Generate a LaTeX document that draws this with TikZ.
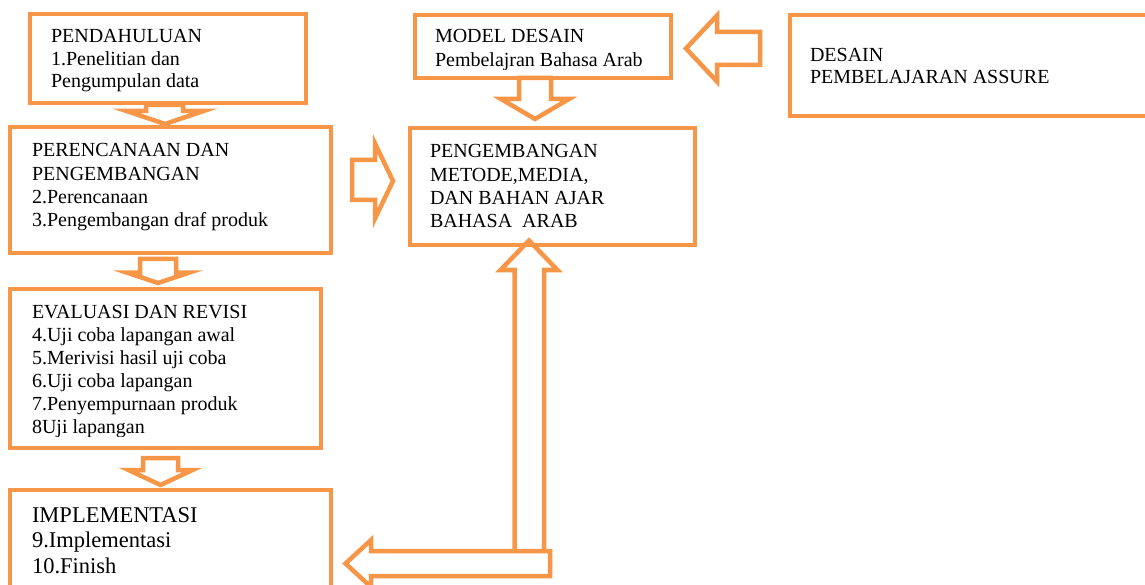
\documentclass[tikz,border=0pt]{standalone}
\usepackage{fontspec}
\setmainfont{Liberation Serif}
\definecolor{org}{HTML}{F79646}
\newcommand\lines[2]{\parbox[t]{12cm}{\raggedright\fontsize{20}{#1}\selectfont #2}}
\newcommand\biglines[2]{\parbox[t]{12cm}{\raggedright\fontsize{22.5}{#1}\selectfont #2}}
\begin{document}
\begin{tikzpicture}[x=1pt,y=-1pt,
  box/.style={draw=org,line width=4.5pt,inner sep=0pt,outer sep=0pt,anchor=north west},
  blk/.style={draw=org,line width=4.5pt,line join=miter,miter limit=20},
  lbl/.style={inner sep=0pt,outer sep=0pt,anchor=base west}]
\useasboundingbox (0,0) rectangle (1145,585);
\clip (0,0) rectangle (1145,585);
% boxes
\node[box,minimum width=276pt,minimum height=89pt] (pend) at (30,14) {};
\node[box,minimum width=321pt,minimum height=126pt] (renc) at (10,127) {};
\node[box,minimum width=256pt,minimum height=63pt] (model) at (415,15) {};
\node[box,minimum width=285pt,minimum height=117pt] (peng) at (410,128) {};
\node[box,minimum width=370pt,minimum height=101pt] (desain) at (790,15) {};
\node[box,minimum width=311pt,minimum height=159pt] (eval) at (10,289) {};
\node[box,minimum width=321pt,minimum height=130pt] (impl) at (10,490) {};
% texts
\node[lbl] (tpend) at (51,43) {\lines{22.5}{PENDAHULUAN\\1.Penelitian dan\\Pengumpulan data}};
\node[lbl] (trenc) at (32,157) {\lines{23.3}{PERENCANAAN DAN\\PENGEMBANGAN\\2.Perencanaan\\3.Pengembangan draf produk}};
\begin{scope}
\clip (415,15) rectangle (671,70);
\node[lbl] (tmodel) at (435,43) {\lines{24}{MODEL DESAIN\\Pembelajran Bahasa Arab}};
\end{scope}
\node[lbl] (tpeng) at (430,158) {\lines{23.3}{PENGEMBANGAN\\METODE,MEDIA,\\DAN BAHAN AJAR\\BAHASA\ \ ARAB}};
\node[lbl] (tdesain) at (810,62) {\lines{21.5}{DESAIN\\PEMBELAJARAN ASSURE}};
\begin{scope}
\clip (10,289) rectangle (321,436);
\node[lbl] (teval) at (32,318) {\lines{23}{EVALUASI DAN REVISI\\4.Uji coba lapangan awal\\5.Merivisi hasil uji coba\\6.Uji coba lapangan\\7.Penyempurnaan produk\\8Uji lapangan}};
\end{scope}
\node[lbl] (timpl) at (32,522) {\biglines{25.5}{IMPLEMENTASI\\9.Implementasi\\10.Finish}};
% block arrows
\draw[blk] (146,105) -- (146,111) -- (126.5,111) -- (165,124) -- (203.5,111) -- (183,111) -- (183,105) -- cycle;
\draw[blk] (140,259) -- (140,272.5) -- (126.5,272.5) -- (158,283) -- (189.5,272.5) -- (176,272.5) -- (176,259) -- cycle;
\draw[blk] (143,458) -- (143,470) -- (128.5,470) -- (160.5,485) -- (192.5,470) -- (178,470) -- (178,458) -- cycle;
\draw[blk] (519,78) -- (519,99) -- (501,99) -- (535,119) -- (569,99) -- (551,99) -- (551,78) -- cycle;
\draw[blk] (352,160) -- (375,160) -- (375,143.5) -- (393,181) -- (375,218.5) -- (375,200) -- (352,200) -- cycle;
\draw[blk] (760,32) -- (717,32) -- (717,15.5) -- (686,48.5) -- (717,81.5) -- (717,65) -- (760,65) -- cycle;
\draw[blk] (550,551) -- (371,551) -- (371,540) -- (345.5,563.5) -- (371,587) -- (371,576) -- (550,576) -- cycle;
\draw[blk] (514.5,551) -- (514.5,270) -- (500.5,270) -- (529,240.5) -- (557.5,270) -- (544,270) -- (544,551);
\end{tikzpicture}
\end{document}
